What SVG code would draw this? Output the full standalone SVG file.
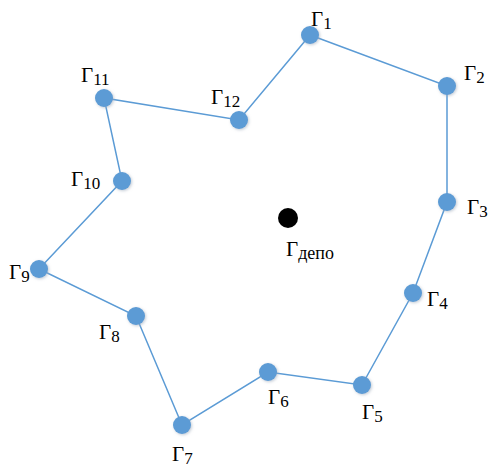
<svg xmlns="http://www.w3.org/2000/svg" width="493" height="470" viewBox="0 0 493 470">
<style>
.node{fill:#5B9BD5;filter:url(#sh)}
.edge{stroke:#5B9BD5;stroke-width:1.5;fill:none}
.lbl{font-family:"Liberation Serif","Times New Roman",serif;font-size:21px;fill:#000}
.sub{font-size:17px}
.subd{font-size:18px}
</style>
<defs>
<filter id="sh" x="-50%" y="-50%" width="200%" height="200%">
<feGaussianBlur in="SourceAlpha" stdDeviation="1.5"/>
<feOffset dx="0.5" dy="1" result="b"/>
<feFlood flood-color="#9aa8b8" flood-opacity="0.6"/>
<feComposite in2="b" operator="in"/>
<feMerge><feMergeNode/><feMergeNode in="SourceGraphic"/></feMerge>
</filter>
</defs>
<rect width="493" height="470" fill="#fff"/>
<g id="connectors">
<polyline class="edge" points="310,35 447,86 447,202 413,293 362,385 268,372 182,425 136,316 39,269 122,181 104,98 239,120 310,35"/>
</g>
<g id="depot"><circle cx="288" cy="218" r="10" fill="#000"/><text class="lbl" x="286" y="256">Г<tspan class="subd" dy="3">депо</tspan></text></g>
<g id="n1"><circle class="node" cx="310" cy="35" r="9"/><text class="lbl" x="311" y="26">Г<tspan class="sub" dy="3">1</tspan></text></g>
<g id="n2"><circle class="node" cx="447" cy="86" r="9"/><text class="lbl" x="464" y="80">Г<tspan class="sub" dy="3">2</tspan></text></g>
<g id="n3"><circle class="node" cx="447" cy="202" r="9"/><text class="lbl" x="467" y="214">Г<tspan class="sub" dy="3">3</tspan></text></g>
<g id="n4"><circle class="node" cx="413" cy="293" r="9"/><text class="lbl" x="427" y="306">Г<tspan class="sub" dy="3">4</tspan></text></g>
<g id="n5"><circle class="node" cx="362" cy="385" r="9"/><text class="lbl" x="362" y="419">Г<tspan class="sub" dy="3">5</tspan></text></g>
<g id="n6"><circle class="node" cx="268" cy="372" r="9"/><text class="lbl" x="268" y="404">Г<tspan class="sub" dy="3">6</tspan></text></g>
<g id="n7"><circle class="node" cx="182" cy="425" r="9"/><text class="lbl" x="172" y="461">Г<tspan class="sub" dy="3">7</tspan></text></g>
<g id="n8"><circle class="node" cx="136" cy="316" r="9"/><text class="lbl" x="99" y="339">Г<tspan class="sub" dy="3">8</tspan></text></g>
<g id="n9"><circle class="node" cx="39" cy="269" r="9"/><text class="lbl" x="9" y="279">Г<tspan class="sub" dy="3">9</tspan></text></g>
<g id="n10"><circle class="node" cx="122" cy="181" r="9"/><text class="lbl" x="71" y="186">Г<tspan class="sub" dy="3">10</tspan></text></g>
<g id="n11"><circle class="node" cx="104" cy="98" r="9"/><text class="lbl" x="81" y="82">Г<tspan class="sub" dy="3">11</tspan></text></g>
<g id="n12"><circle class="node" cx="239" cy="120" r="9"/><text class="lbl" x="211" y="104">Г<tspan class="sub" dy="3">12</tspan></text></g>
</svg>
